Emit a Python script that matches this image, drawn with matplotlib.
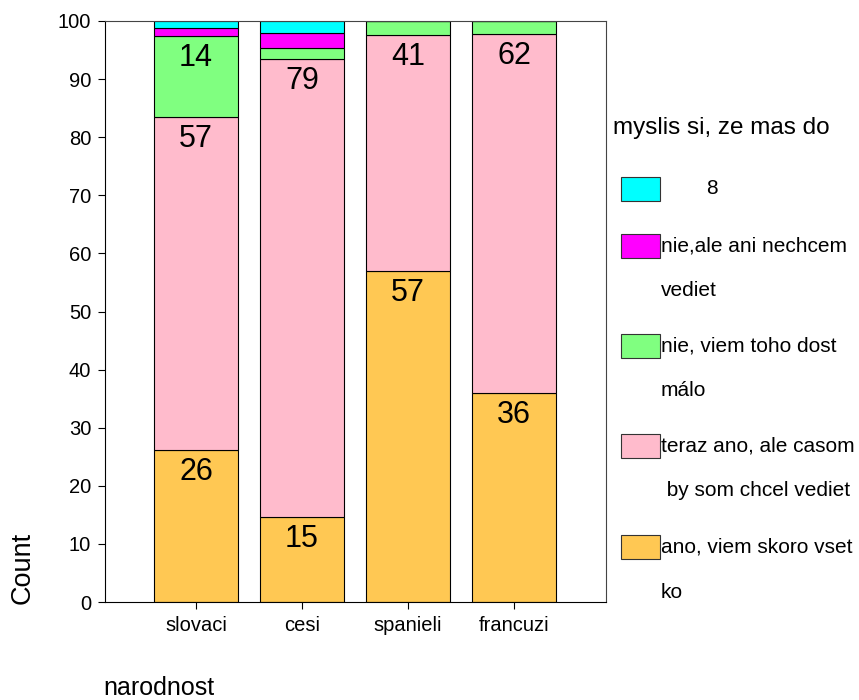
import matplotlib.pyplot as plt
from matplotlib.patches import Rectangle

plt.rcParams['font.family'] = ['Liberation Sans', 'DejaVu Sans']

narodnost = ['slovaci', 'cesi', 'spanieli', 'francuzi']
odpovede = ['ano, viem skoro vset\nko',
            'teraz ano, ale casom\n by som chcel vediet',
            'nie, viem toho dost\nmálo',
            'nie,ale ani nechcem\nvediet',
            '        8']
farby = ['#FFC853', '#FFBBCC', '#80FF80', '#FF00FF', '#00FFFF']

ano = [26.1, 14.6, 57.0, 36.0]
teraz = [57.4, 78.9, 40.6, 61.8]
nie_malo = [13.9, 1.9, 2.4, 2.2]
nie_nechcem = [1.4, 2.5, 0.0, 0.0]
osem = [1.2, 2.1, 0.0, 0.0]
serie = [ano, teraz, nie_malo, nie_nechcem, osem]

W, H = 859, 700
fig = plt.figure(figsize=(W / 100, H / 100), dpi=100)
ax = fig.add_axes([105 / W, 1 - 602 / H, (606 - 105) / W, (602 - 21) / H])

x = list(range(len(narodnost)))
spodok = [0.0] * len(narodnost)
for hodnoty, farba in zip(serie, farby):
    ax.bar(x, hodnoty, 0.79, bottom=spodok, color=farba, edgecolor='black', linewidth=0.8)
    for i, v in enumerate(hodnoty):
        vrch = spodok[i] + v
        if v >= 5:
            ax.annotate('%d' % round(v), (x[i], vrch), xytext=(0, -5), textcoords='offset points',
                        ha='center', va='top', fontsize=22)
        spodok[i] = vrch

ax.set_xlim(-0.858, 3.868)
ax.set_ylim(0, 100)
ax.set_yticks(range(0, 101, 10))
ax.set_xticks(x)
ax.set_xticklabels(narodnost)
ax.tick_params(labelsize=14.5, length=5, width=0.8, pad=5)
for s in ['top', 'right']:
    ax.spines[s].set_color('#444444')
    ax.spines[s].set_linewidth(0.8)

fig.text(23 / W, 1 - 568 / H, 'Count', rotation=90, ha='center', va='center', fontsize=19.5)
fig.text(103 / W, 1 - 688 / H, 'narodnost', ha='left', va='center', fontsize=18)

# legenda
fig.text(613 / W, 1 - 128 / H, 'myslis si, ze mas do', ha='left', va='center', fontsize=17.5)
stredy = [547, 446, 346, 246, 189]
for odp, farba, yc in zip(odpovede, farby, stredy):
    fig.add_artist(Rectangle((621 / W, 1 - (yc + 12) / H), 39 / W, 24 / H,
                             transform=fig.transFigure, facecolor=farba,
                             edgecolor='#333333', linewidth=0.8))
    for k, riadok in enumerate(odp.split('\n')):
        fig.text(661 / W, 1 - (yc + k * 45) / H, riadok, ha='left', va='center', fontsize=15)

fig.savefig('out.png', dpi=100)
